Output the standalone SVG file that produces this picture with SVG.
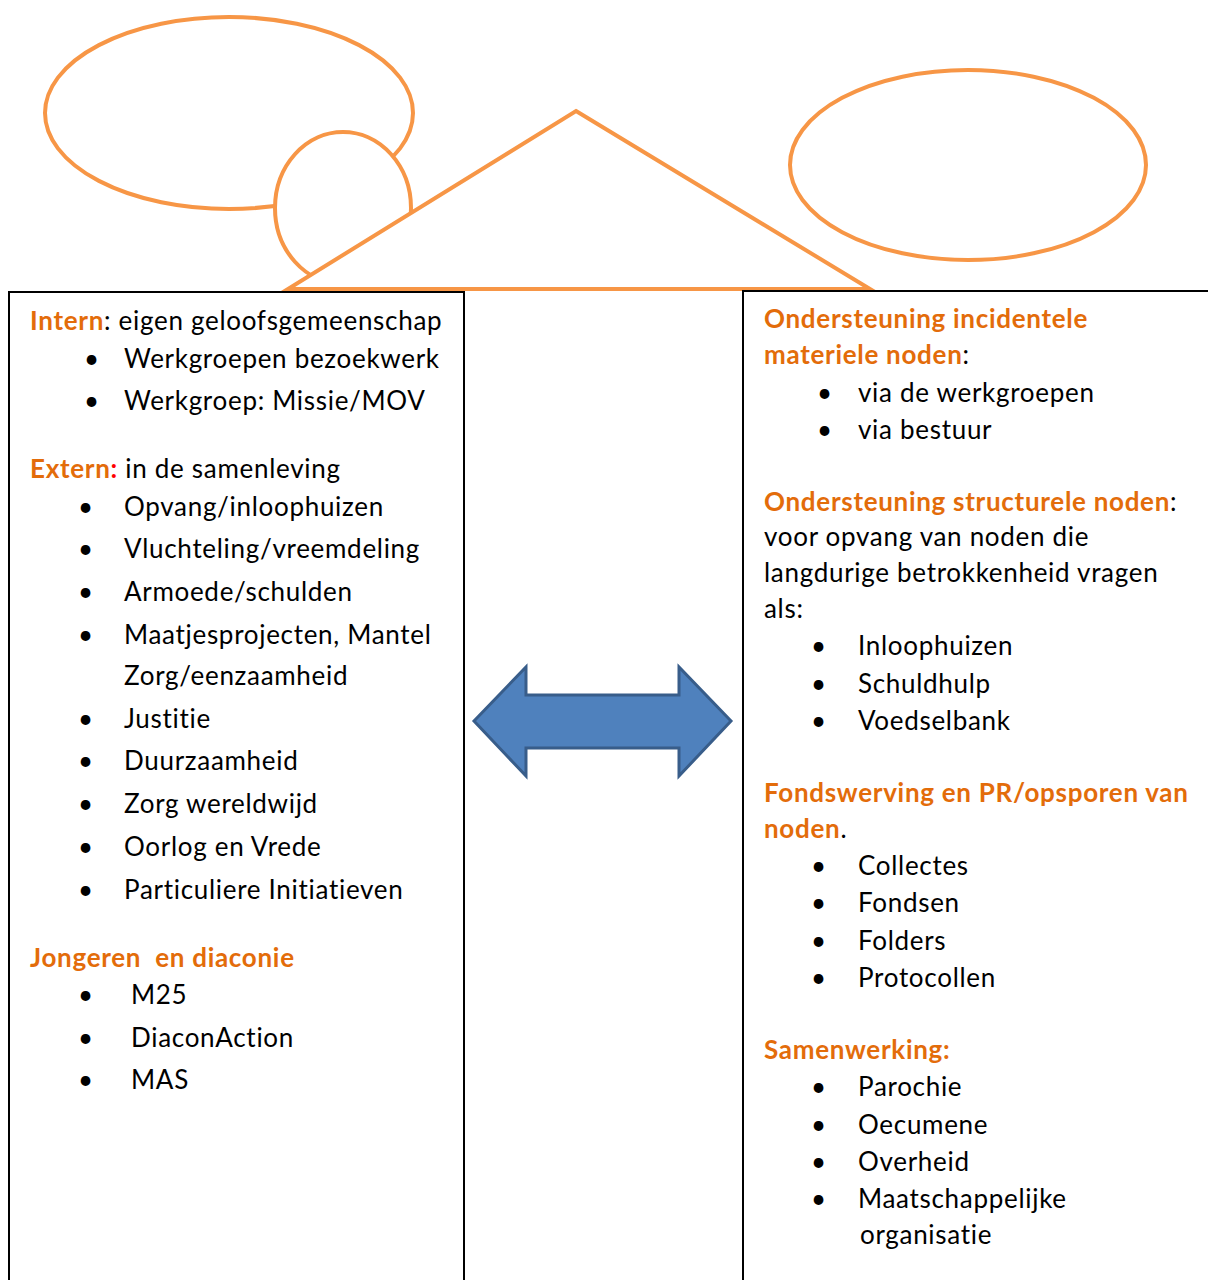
<svg xmlns="http://www.w3.org/2000/svg" width="1208" height="1280" viewBox="0 0 1208 1280">
<style>
.sh{fill:#fff;stroke:#F79646;stroke-width:4}
.box{fill:#fff;stroke:#000;stroke-width:2}
text{font-family:Lato,"Open Sans","Liberation Sans",sans-serif;font-size:26px;letter-spacing:0.7px;fill:#000}
.o{fill:#E36C0A;font-weight:bold}
.r{fill:#FF0000;font-weight:bold}
</style>
<rect width="1208" height="1280" fill="#fff"/>
<g id="house">
<ellipse class="sh" cx="229" cy="113" rx="184" ry="96"/>
<ellipse class="sh" cx="343" cy="208" rx="68" ry="76"/>
<polygon class="sh" points="576,111 870,289 288,289" stroke-linejoin="miter"/>
<ellipse class="sh" cx="968" cy="165" rx="178" ry="95"/>
</g>
<g id="left-box">
<rect class="box" x="9" y="292" width="455" height="1000"/>
<text x="30" y="330"><tspan class="o">Intern</tspan>: eigen geloofsgemeenschap</text>
<text x="84" y="368">•</text><text x="124" y="368">Werkgroepen bezoekwerk</text>
<text x="84" y="410">•</text><text x="124" y="410">Werkgroep: Missie/MOV</text>
<text x="30" y="478"><tspan class="o">Extern</tspan><tspan class="r">:</tspan> in de samenleving</text>
<text x="78" y="516">•</text><text x="124" y="516">Opvang/inloophuizen</text>
<text x="78" y="558">•</text><text x="124" y="558">Vluchteling/vreemdeling</text>
<text x="78" y="601">•</text><text x="124" y="601">Armoede/schulden</text>
<text x="78" y="644">•</text><text x="124" y="644">Maatjesprojecten, Mantel</text>
<text x="124" y="685">Zorg/eenzaamheid</text>
<text x="78" y="728">•</text><text x="124" y="728">Justitie</text>
<text x="78" y="770">•</text><text x="124" y="770">Duurzaamheid</text>
<text x="78" y="813">•</text><text x="124" y="813">Zorg wereldwijd</text>
<text x="78" y="856">•</text><text x="124" y="856">Oorlog en Vrede</text>
<text x="78" y="899">•</text><text x="124" y="899">Particuliere Initiatieven</text>
<text x="30" y="967" class="o" xml:space="preserve">Jongeren  en diaconie</text>
<text x="78" y="1004">•</text><text x="131" y="1004">M25</text>
<text x="78" y="1047">•</text><text x="131" y="1047">DiaconAction</text>
<text x="78" y="1089">•</text><text x="131" y="1089">MAS</text>
</g>
<g id="connectors">
<polygon points="474,721 526,667 526,695 679,695 679,667 731,721 679,776 679,748 526,748 526,776" fill="#4F81BD" stroke="#385D8A" stroke-width="3" stroke-linejoin="miter"/>
</g>
<g id="right-box">
<rect class="box" x="743" y="291" width="480" height="1000"/>
<text x="764" y="328" class="o">Ondersteuning incidentele</text>
<text x="764" y="364"><tspan class="o">materiele noden</tspan>:</text>
<text x="817" y="402">•</text><text x="858" y="402">via de werkgroepen</text>
<text x="817" y="439">•</text><text x="858" y="439">via bestuur</text>
<text x="764" y="511"><tspan class="o">Ondersteuning structurele noden</tspan>:</text>
<text x="764" y="546">voor opvang van noden die</text>
<text x="764" y="582">langdurige betrokkenheid vragen</text>
<text x="764" y="618">als:</text>
<text x="811" y="655">•</text><text x="858" y="655">Inloophuizen</text>
<text x="811" y="693">•</text><text x="858" y="693">Schuldhulp</text>
<text x="811" y="730">•</text><text x="858" y="730">Voedselbank</text>
<text x="764" y="802" class="o">Fondswerving en PR/opsporen van</text>
<text x="764" y="838"><tspan class="o">noden</tspan>.</text>
<text x="811" y="875">•</text><text x="858" y="875">Collectes</text>
<text x="811" y="912">•</text><text x="858" y="912">Fondsen</text>
<text x="811" y="950">•</text><text x="858" y="950">Folders</text>
<text x="811" y="987">•</text><text x="858" y="987">Protocollen</text>
<text x="764" y="1059" class="o">Samenwerking:</text>
<text x="811" y="1096">•</text><text x="858" y="1096">Parochie</text>
<text x="811" y="1134">•</text><text x="858" y="1134">Oecumene</text>
<text x="811" y="1171">•</text><text x="858" y="1171">Overheid</text>
<text x="811" y="1208">•</text><text x="858" y="1208">Maatschappelijke</text>
<text x="860" y="1244">organisatie</text>
</g>
</svg>
